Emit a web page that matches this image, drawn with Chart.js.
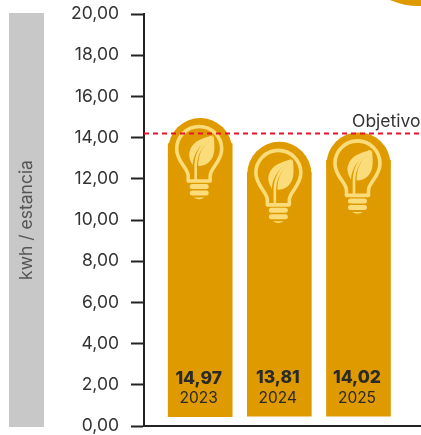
<!DOCTYPE html>
<html lang="es">
  <head>
    <meta charset="UTF-8" />
    <title>kwh / estancia</title>
    <script src="https://cdn.jsdelivr.net/npm/chart.js@4/dist/chart.umd.min.js"></script>
    <style>
      html, body { margin: 0; padding: 0; background: #fff; overflow: hidden; }
      .wrap { position: relative; width: 421px; height: 435px; overflow: hidden; }
      .axis-band { position: absolute; left: 9px; top: 13px; width: 35px; height: 414px; background: #c8c8c8; }
      .corner-blob { position: absolute; left: 350px; top: -130px; width: 136px; height: 136px; border-radius: 50%; background: #df9a00; }
      canvas { position: absolute; left: 0; top: 0; }
    </style>
  </head>
  <body>
    <div class="wrap">
      <div class="axis-band"></div>
      <div class="corner-blob"></div>
      <canvas id="chart" width="421" height="435"></canvas>
    </div>

    <script>
      // values
      const years = [2023, 2024, 2025];
      const values = [14.97, 13.81, 14.02];
      const barBases = [0.45, 0.48, 0.48];
      const barShoulders = [13.71, 12.3, 12.91];
      const domeCentres = [13.4, 12.24, 12.7];
      const objective = 14.2;
      const yTicks = [0, 2, 4, 6, 8, 10, 12, 14, 16, 18, 20];
      const xMin = 2022.29;
      const xMax = 2025.79;

      const fontName = "Inter, 'Noto Sans', sans-serif";
      const comma = (v) => v.toFixed(2).replace(".", ",");

      // bulb with leaf, origin in the middle of the glass
      function drawBulb(ctx, x, y) {
        ctx.save();
        ctx.translate(x, y);
        ctx.strokeStyle = "#fbdc7a";
        ctx.fillStyle = "#fbdc7a";
        ctx.lineWidth = 3.6;
        ctx.lineJoin = "round";
        ctx.lineCap = "round";

        ctx.beginPath();
        ctx.moveTo(-11, 32);
        ctx.lineTo(-11, 27);
        ctx.bezierCurveTo(-11, 19, -22.5, 13, -22.5, 0);
        ctx.arc(0, 0, 22.5, Math.PI, 0);
        ctx.bezierCurveTo(22.5, 13, 11, 19, 11, 27);
        ctx.lineTo(11, 32);
        ctx.closePath();
        ctx.stroke();

        // stem
        ctx.lineWidth = 2.6;
        ctx.beginPath();
        ctx.moveTo(-3.5, 32);
        ctx.lineTo(-3.5, 16);
        ctx.bezierCurveTo(-3, 4, 3, -5, 12, -12);
        ctx.stroke();

        // leaf halves
        ctx.beginPath();
        ctx.moveTo(14, -13.5);
        ctx.bezierCurveTo(2, -11, -7, -7, -9.5, 2);
        ctx.bezierCurveTo(-11, 7, -9, 12, -6.5, 16);
        ctx.bezierCurveTo(-6, 4, 2, -6, 14, -13.5);
        ctx.fill();
        ctx.beginPath();
        ctx.moveTo(14.5, -13);
        ctx.bezierCurveTo(4, -5, -1, 4, -1, 17);
        ctx.bezierCurveTo(8, 17, 14, 11, 15, 2);
        ctx.bezierCurveTo(15.5, -3, 15, -8, 14.5, -13);
        ctx.fill();

        // screw threads
        ctx.lineWidth = 5;
        ctx.beginPath();
        ctx.moveTo(-7, 37.5);
        ctx.lineTo(7, 37.5);
        ctx.moveTo(-7, 44);
        ctx.lineTo(7, 44);
        ctx.stroke();
        ctx.beginPath();
        ctx.moveTo(-5.5, 48.5);
        ctx.lineTo(5.5, 48.5);
        ctx.quadraticCurveTo(0, 52, -5.5, 48.5);
        ctx.fill();
        ctx.restore();
      }

      const barDecor = {
        id: "barDecor",
        afterDatasetDraw(chart, args) {
          if (args.index !== 1) return;
          const { ctx, scales } = chart;
          years.forEach((year, i) => {
            drawBulb(ctx, scales.x.getPixelForValue(year) - 1, scales.y.getPixelForValue(domeCentres[i]) - 1);
          });
        },
        afterDraw(chart) {
          const { ctx, scales, chartArea } = chart;
          ctx.save();
          ctx.textAlign = "center";
          ctx.textBaseline = "middle";
          ctx.fillStyle = "#2a2a2a";
          years.forEach((year, i) => {
            const x = scales.x.getPixelForValue(year) - 1.5;
            const base = scales.y.getPixelForValue(barBases[i]);
            ctx.font = "800 17.5px " + fontName;
            ctx.fillText(comma(values[i]), x, base - 38);
            ctx.font = "400 15.5px " + fontName;
            ctx.fillText(String(year), x, base - 18);
          });
          ctx.textAlign = "left";
          ctx.font = "400 17.5px " + fontName;
          ctx.fillStyle = "#333";
          ctx.fillText("Objetivo", chartArea.right - 69, scales.y.getPixelForValue(objective) - 12);
          ctx.restore();
        },
      };

      const ctx = document.getElementById("chart").getContext("2d");
      new Chart(ctx, {
        data: {
          datasets: [
            {
              type: "bar",
              data: years.map((y, i) => ({ x: y, y: [barBases[i], barShoulders[i]] })),
              backgroundColor: "#df9a00",
              barThickness: 64,
              order: 3,
            },
            {
              type: "line",
              data: years.map((y, i) => ({ x: y, y: domeCentres[i] })),
              showLine: false,
              pointRadius: 32,
              pointHoverRadius: 32,
              pointBorderWidth: 0,
              pointBackgroundColor: "#df9a00",
              order: 2,
            },
            {
              type: "line",
              data: [
                { x: xMin, y: objective },
                { x: xMax, y: objective },
              ],
              borderColor: "#e5142c",
              borderWidth: 2,
              borderDash: [5, 4],
              pointRadius: 0,
              order: 1,
            },
          ],
        },
        options: {
          responsive: false,
          animation: false,
          events: [],
          layout: { autoPadding: false, padding: { top: 14, bottom: 9, left: 0, right: 0 } },
          plugins: { legend: { display: false }, tooltip: { enabled: false } },
          scales: {
            x: {
              type: "linear",
              offset: false,
              min: xMin,
              max: xMax,
              afterFit(scale) {
                scale.height = 0;
                scale.paddingLeft = 0;
                scale.paddingRight = 0;
              },
              ticks: { display: false },
              grid: { display: false },
              border: { color: "#222", width: 2 },
            },
            y: {
              min: 0,
              max: 20,
              afterBuildTicks(scale) {
                scale.ticks = yTicks.map((v) => ({ value: v }));
              },
              afterFit(scale) {
                scale.width = 144;
                scale.paddingTop = 0;
                scale.paddingBottom = 0;
              },
              ticks: {
                color: "#333",
                padding: 12,
                font: { family: fontName, size: 17.5 },
                callback: (v) => comma(v),
              },
              grid: { drawOnChartArea: false, tickLength: 13, tickColor: "#222", tickWidth: 2 },
              border: { color: "#222", width: 2 },
              title: {
                display: true,
                text: "kwh / estancia",
                color: "#555",
                font: { family: fontName, size: 17.5 },
                padding: { top: 16, bottom: 0 },
              },
            },
          },
        },
        plugins: [barDecor],
      });
    </script>
  </body>
</html>
